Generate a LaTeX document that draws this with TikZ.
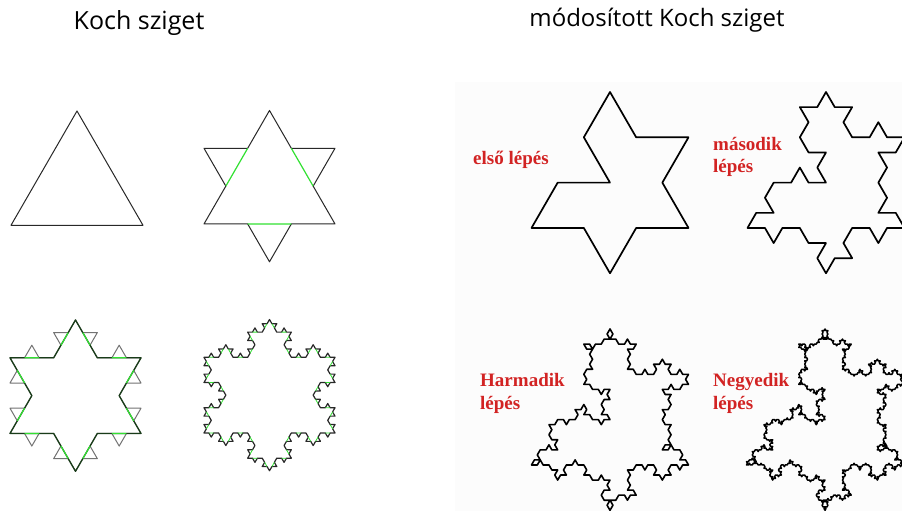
\documentclass[tikz,border=0pt]{standalone}
\usepackage{fontspec}
\setmainfont{Liberation Serif}
\newfontfamily\titlefont{Open Sans}
\newcount\kang
\newcount\kc
\newcount\kt
\newif\ifkstd
\def\kpath{}
\def\kleafline{\xdef\kpath{\kpath --++(\the\kang:\kl pt)}}
\def\kleafmid{\xdef\kpath{\kpath ++(\the\kang:\kls pt) --++(\the\kang:\kls pt) ++(\the\kang:\kls pt)}}
\let\kleaf\kleafline
\def\kturn#1{\global\advance\kang by #1\relax}
\def\kmodto#1#2{\kc=\numexpr#1\relax \kt=\kc \divide\kt by #2\relax \multiply\kt by #2\relax \advance\kc by -\kt}
\def\ksign#1#2{%
  \ifcase#1\relax
    \ifnum#2=2 \def\ks{-1}\else\def\ks{1}\fi
  \or
    \ifcase#2\relax \def\ks{1}\or\def\ks{1}\or\def\ks{-1}\or\def\ks{-1}\or
      \def\ks{1}\or\def\ks{1}\or\def\ks{-1}\or\def\ks{1}\or
      \def\ks{-1}\or\def\ks{1}\or\def\ks{-1}\or\def\ks{1}\fi
  \else
    \kmodto{#2*2654+#1*977+331}{32749}%
    \kmodto{\kc*\kc+12345}{32749}%
    \kmodto{\kc*\kc+54321}{32749}%
    \divide\kc by 64\relax
    \ifodd\kc \def\ks{-1}\else\def\ks{1}\fi
  \fi}
\def\kseg#1#2#3{%
  \ifnum#1=0 \kleaf\else
  \begingroup
    \ifkstd\def\ks{1}\else\ksign{#2}{#3}\fi
    \edef\kA{\noexpand\kseg{\the\numexpr#1-1\relax}{\the\numexpr#2+1\relax}{\the\numexpr4*#3\relax}}%
    \edef\kB{\noexpand\kseg{\the\numexpr#1-1\relax}{\the\numexpr#2+1\relax}{\the\numexpr4*#3+1\relax}}%
    \edef\kC{\noexpand\kseg{\the\numexpr#1-1\relax}{\the\numexpr#2+1\relax}{\the\numexpr4*#3+2\relax}}%
    \edef\kD{\noexpand\kseg{\the\numexpr#1-1\relax}{\the\numexpr#2+1\relax}{\the\numexpr4*#3+3\relax}}%
    \edef\kP{\the\numexpr60*(\ks)\relax}%
    \edef\kM{\the\numexpr-120*(\ks)\relax}%
    \kA\kturn\kP\kB\kturn\kM\kC\kturn\kP\kD
  \endgroup
  \fi}
\newcommand\kbuild[2]{%
  \gdef\kpath{}\global\kang=-60\relax
  \pgfmathsetmacro\kl{#1/(3^#2)}%
  \pgfmathsetmacro\kls{\kl/3}%
  \kseg{#2}{0}{0}\kturn{-120}\kseg{#2}{0}{1}\kturn{-120}\kseg{#2}{0}{2}}
\definecolor{kdark}{RGB}{40,40,40}
\definecolor{kgray}{RGB}{115,115,115}
\definecolor{kgreen}{RGB}{50,225,50}
\definecolor{kdgreen}{RGB}{25,60,25}
\definecolor{kred}{RGB}{210,35,35}
\tikzset{
  leftline/.style={line width=1pt, line join=round},
  rightline/.style={draw=black, line width=1.7pt, line join=round},
  title/.style={font=\titlefont\fontsize{25}{30}\selectfont, inner sep=0pt},
  steplabel/.style={font=\bfseries\fontsize{19}{23}\selectfont, text=kred, inner sep=0pt, anchor=base west}
}
\begin{document}
\begin{tikzpicture}[x=1pt,y=1pt]
\useasboundingbox (0,0) rectangle (902,511);
\fill[white] (0,0) rectangle (902,511);
\fill[black!1] (455,0) rectangle (902,429);
% titles
\node[title] (t1) at (139,488) {Koch sziget};
\node[title, font=\titlefont\fontsize{24}{28}\selectfont] (t2) at (657,491) {módosított Koch sziget};
% ---------- left: Koch island ----------
\kstdtrue
% L1
\kbuild{132}{0}
\draw[leftline, draw=kdark] (77,400) \kpath -- cycle;
% L2
\kbuild{131}{1}
\draw[leftline, draw=kdark] (269.5,400.5) \kpath -- cycle;
\let\kleaf\kleafmid
\kbuild{131}{0}
\draw[leftline, draw=kgreen, line width=1.2pt] (269.5,400.5) \kpath;
\let\kleaf\kleafline
% L3
\kbuild{131}{2}
\draw[leftline, draw=kgray] (75.5,191) \kpath -- cycle;
\kbuild{131}{1}
\draw[leftline, draw=kdgreen, line width=1.3pt] (75.5,191) \kpath -- cycle;
\let\kleaf\kleafmid
\kbuild{131}{1}
\draw[leftline, draw=kgreen, line width=1.2pt] (75.5,191) \kpath;
\let\kleaf\kleafline
% L4
\kbuild{131}{3}
\draw[leftline, draw=kdark, line width=1.2pt] (269.5,191.5) \kpath -- cycle;
\let\kleaf\kleafmid
\kbuild{131}{2}
\draw[leftline, draw=kgreen, line width=0.8pt] (269.5,191.5) \kpath;
\let\kleaf\kleafline
% ---------- right: modified Koch island ----------
\kstdfalse
\kbuild{157}{1}
\draw[rightline] (610,419) \kpath -- cycle;
\kbuild{157}{2}
\draw[rightline] (826,419) \kpath -- cycle;
\kbuild{157}{3}
\draw[rightline, line width=1.6pt] (610,182) \kpath -- cycle;
\kbuild{157}{4}
\draw[rightline, line width=1.5pt] (825,182) \kpath -- cycle;
% labels
\node[steplabel] (l1) at (473,346) {első lépés};
\node[steplabel] (l2a) at (713,360) {második};
\node[steplabel] (l2b) at (713,338) {lépés};
\node[steplabel] (l3a) at (480,124) {Harmadik};
\node[steplabel] (l3b) at (480,101) {lépés};
\node[steplabel] (l4a) at (713,124) {Negyedik};
\node[steplabel] (l4b) at (713,101) {lépés};
\end{tikzpicture}
\end{document}
